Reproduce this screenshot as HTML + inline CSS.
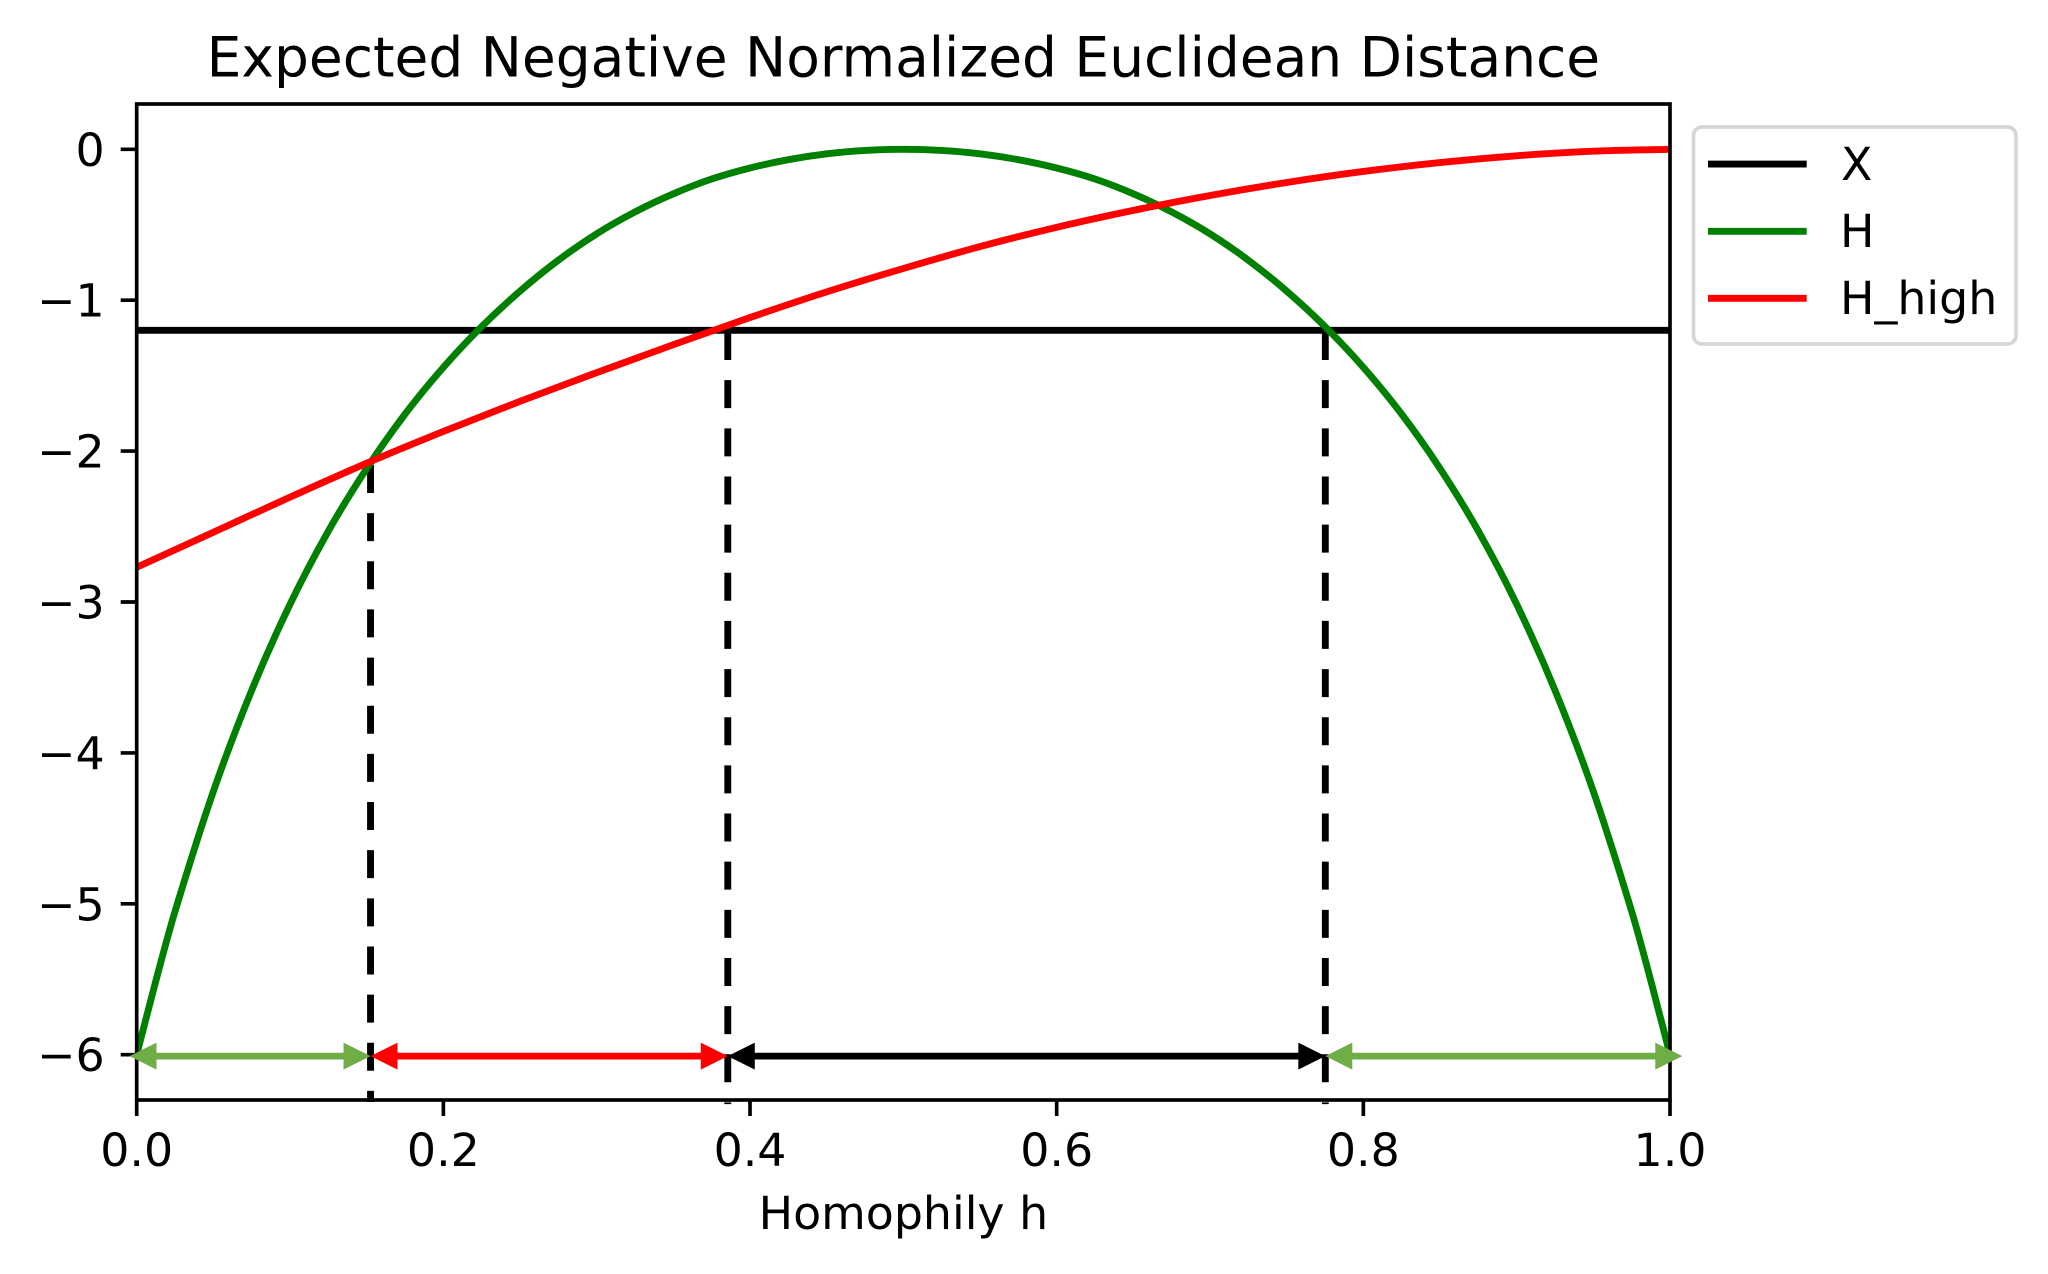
<!DOCTYPE html>
<html lang="en">
<head>
<meta charset="utf-8">
<title>Expected Negative Normalized Euclidean Distance</title>
<style>
html,body{margin:0;padding:0;background:#fff;width:2048px;height:1274px;overflow:hidden}
svg{display:block}
text{font-family:"DejaVu Sans",sans-serif;fill:#000}
</style>
</head>
<body>
<svg id="chart" xmlns="http://www.w3.org/2000/svg" width="2048" height="1274" viewBox="0 0 2048 1274">
<rect x="0" y="0" width="2048" height="1274" fill="#fff"/>
<defs><clipPath id="plot-clip"><rect x="136.7" y="104" width="1533.3" height="996"/></clipPath></defs>
<g id="vlines"></g>
<g id="series" clip-path="url(#plot-clip)"></g>
<g id="axes"></g>
<g id="arrows"></g>
<text x="903.4" y="76.7" font-size="55" text-anchor="middle">Expected Negative Normalized Euclidean Distance</text>
<text x="903.4" y="1229" font-size="45.83" text-anchor="middle">Homophily h</text>
<g>
<rect x="1693.5" y="127" width="322.5" height="217" rx="8.5" ry="8.5" fill="#fff" stroke="#d6d6d6" stroke-width="3.67"/>
<line x1="1708" x2="1806.7" y1="164" y2="164" stroke="#000" stroke-width="6.875"/>
<text x="1841" y="180" font-size="45.83">X</text>
<line x1="1708" x2="1806.7" y1="231.3" y2="231.3" stroke="#008000" stroke-width="6.875"/>
<text x="1840" y="247" font-size="45.83">H</text>
<line x1="1708" x2="1806.7" y1="298.3" y2="298.3" stroke="#ff0000" stroke-width="6.875"/>
<text x="1840" y="314" font-size="45.83">H_high</text>
</g>
</svg>
<script>
const homophilyH = [0, 0.0125, 0.025, 0.05, 0.075, 0.1, 0.125, 0.15, 0.175, 0.2, 0.225, 0.25, 0.275, 0.3, 0.325, 0.35, 0.375, 0.4, 0.425, 0.45, 0.475, 0.5, 0.525, 0.55, 0.575, 0.6, 0.625, 0.65, 0.675, 0.7, 0.725, 0.75, 0.775, 0.8, 0.825, 0.85, 0.875, 0.9, 0.925, 0.95, 0.975, 0.9875, 1];
const seriesH = [-6, -5.51, -5.05, -4.255, -3.585, -3.015, -2.53, -2.115, -1.755, -1.445, -1.175, -0.94, -0.735, -0.56, -0.415, -0.295, -0.197, -0.124, -0.069, -0.03, -0.0076, 0, -0.0076, -0.03, -0.069, -0.124, -0.197, -0.295, -0.415, -0.56, -0.735, -0.94, -1.175, -1.445, -1.755, -2.115, -2.53, -3.015, -3.585, -4.255, -5.05, -5.51, -6];
const homophilyHigh = [0, 0.05, 0.1, 0.15, 0.2, 0.25, 0.3, 0.35, 0.4, 0.45, 0.5, 0.55, 0.6, 0.65, 0.7, 0.75, 0.8, 0.85, 0.9, 0.95, 1];
const seriesHHigh = [-2.77, -2.538, -2.305, -2.08, -1.87, -1.67, -1.48, -1.295, -1.115, -0.945, -0.79, -0.645, -0.517, -0.405, -0.306, -0.22, -0.147, -0.088, -0.043, -0.013, 0];
const levelX = -1.2;
const thresholds = [0.1525, 0.3855, 0.7752];
const thresholdTops = [-2.092, -1.211, -1.211];
const thresholdBottoms = [-6.313, -6.327, -6.327];
const arrowStarts = [-0.0047, 0.1525, 0.3855, 0.7752];
const arrowEnds = [0.1525, 0.3855, 0.7752, 1.008];
const arrowLevel = -6.009;
const arrowColors = ['#70ad47', '#ff0000', '#000000', '#70ad47'];
const xTicks = [0, 0.2, 0.4, 0.6, 0.8, 1];
const xTickLabels = ['0.0', '0.2', '0.4', '0.6', '0.8', '1.0'];
const yTicks = [0, -1, -2, -3, -4, -5, -6];
const yTickLabels = ['0', '\u22121', '\u22122', '\u22123', '\u22124', '\u22125', '\u22126'];

const NS = 'http://www.w3.org/2000/svg';
const L = 136.7, R = 1670, T = 104, B = 1100;
const xMin = 0, xMax = 1, yMin = -6.3, yMax = 0.3;
function sx(v) { return L + (v - xMin) / (xMax - xMin) * (R - L); }
function sy(v) { return T + (yMax - v) / (yMax - yMin) * (B - T); }
function make(tag, parent) {
  const e = document.createElementNS(NS, tag);
  parent.appendChild(e);
  return e;
}
function smoothPath(xs, ys) {
  const px = xs.map(sx), py = ys.map(sy);
  let d = 'M' + px[0].toFixed(2) + ' ' + py[0].toFixed(2);
  for (let i = 0; i < px.length - 1; i++) {
    const i0 = Math.max(0, i - 1), i3 = Math.min(px.length - 1, i + 2);
    const m1 = (py[i + 1] - py[i0]) / (px[i + 1] - px[i0]);
    const m2 = (py[i3] - py[i]) / (px[i3] - px[i]);
    const h = px[i + 1] - px[i];
    d += 'C' + (px[i] + h / 3).toFixed(2) + ' ' + (py[i] + m1 * h / 3).toFixed(2) + ' ' +
      (px[i + 1] - h / 3).toFixed(2) + ' ' + (py[i + 1] - m2 * h / 3).toFixed(2) + ' ' +
      px[i + 1].toFixed(2) + ' ' + py[i + 1].toFixed(2);
  }
  return d;
}

const vlineLayer = document.getElementById('vlines');
thresholds.forEach(function (t, i) {
  const v = make('line', vlineLayer);
  
  
  v.setAttribute('x1', sx(t));
  v.setAttribute('x2', sx(t));
  v.setAttribute('y1', sy(thresholdTops[i]));
  v.setAttribute('y2', sy(thresholdBottoms[i]));
  v.setAttribute('stroke', '#000');
  v.setAttribute('stroke-width', '6.875');
  v.setAttribute('stroke-dasharray', '28 20.15');
});

const seriesLayer = document.getElementById('series');
const lineX = make('line', seriesLayer);


lineX.setAttribute('x1', sx(0));
lineX.setAttribute('x2', sx(1));
lineX.setAttribute('y1', sy(levelX));
lineX.setAttribute('y2', sy(levelX));
lineX.setAttribute('stroke', '#000');
lineX.setAttribute('stroke-width', '6.875');

const pathH = make('path', seriesLayer);


pathH.setAttribute('d', smoothPath(homophilyH, seriesH));
pathH.setAttribute('fill', 'none');
pathH.setAttribute('stroke', '#008000');
pathH.setAttribute('stroke-width', '6.875');

const pathHigh = make('path', seriesLayer);


pathHigh.setAttribute('d', smoothPath(homophilyHigh, seriesHHigh));
pathHigh.setAttribute('fill', 'none');
pathHigh.setAttribute('stroke', '#ff0000');
pathHigh.setAttribute('stroke-width', '6.875');

const axesLayer = document.getElementById('axes');
xTicks.forEach(function (t, i) {
  const tick = make('line', axesLayer);
  
  
  tick.setAttribute('x1', sx(t));
  tick.setAttribute('x2', sx(t));
  tick.setAttribute('y1', B);
  tick.setAttribute('y2', B + 16);
  tick.setAttribute('stroke', '#000');
  tick.setAttribute('stroke-width', '3.67');
  const lab = make('text', axesLayer);
  
  
  lab.setAttribute('x', sx(t));
  lab.setAttribute('y', 1166);
  lab.setAttribute('font-size', '45.83');
  lab.setAttribute('text-anchor', 'middle');
  lab.textContent = xTickLabels[i];
});
yTicks.forEach(function (t, i) {
  const tick = make('line', axesLayer);
  
  
  tick.setAttribute('x1', L - 16);
  tick.setAttribute('x2', L);
  tick.setAttribute('y1', sy(t));
  tick.setAttribute('y2', sy(t));
  tick.setAttribute('stroke', '#000');
  tick.setAttribute('stroke-width', '3.67');
  const lab = make('text', axesLayer);
  
  
  lab.setAttribute('x', 104.7);
  lab.setAttribute('y', sy(t) + 16.5);
  lab.setAttribute('font-size', '45.83');
  lab.setAttribute('text-anchor', 'end');
  lab.textContent = yTickLabels[i];
});
const frame = make('rect', axesLayer);


frame.setAttribute('x', L);
frame.setAttribute('y', T);
frame.setAttribute('width', R - L);
frame.setAttribute('height', B - T);
frame.setAttribute('fill', 'none');
frame.setAttribute('stroke', '#000');
frame.setAttribute('stroke-width', '3.67');

const arrowLayer = document.getElementById('arrows');
const headLen = 27, headHalf = 13.5, shaftHalf = 3.4;
arrowStarts.forEach(function (s, i) {
  const x0 = sx(s), x1 = sx(arrowEnds[i]), y = sy(arrowLevel);
  const a = make('polygon', arrowLayer);
  
  
  a.setAttribute('points', [
    [x0, y], [x0 + headLen, y - headHalf], [x0 + headLen, y - shaftHalf],
    [x1 - headLen, y - shaftHalf], [x1 - headLen, y - headHalf], [x1, y],
    [x1 - headLen, y + headHalf], [x1 - headLen, y + shaftHalf],
    [x0 + headLen, y + shaftHalf], [x0 + headLen, y + headHalf]
  ].map(function (p) { return p[0].toFixed(2) + ',' + p[1].toFixed(2); }).join(' '));
  a.setAttribute('fill', arrowColors[i]);
});
</script>
</body>
</html>
